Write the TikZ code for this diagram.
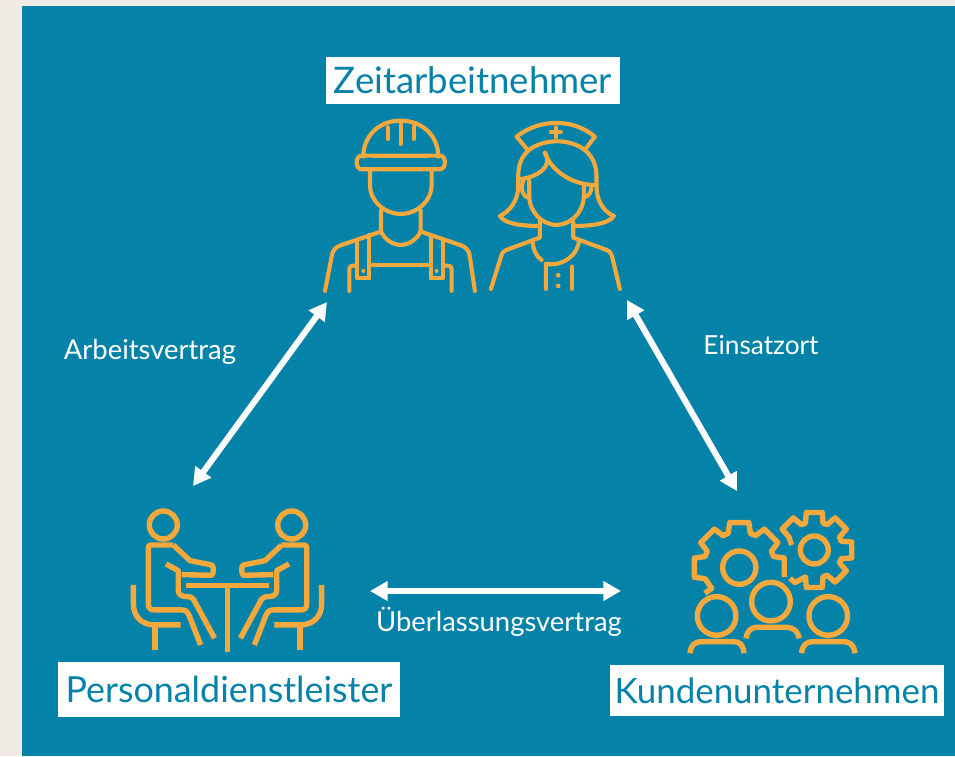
\documentclass[tikz,border=0pt]{standalone}
\usepackage{fontspec}
\setmainfont{Lato}
\usetikzlibrary{arrows.meta}
\usetikzlibrary{positioning}
\definecolor{tealbg}{HTML}{0582A8}
\definecolor{pagebg}{HTML}{EFEBE4}
\definecolor{iconorange}{HTML}{F5A83C}
\tikzset{
	titlebox/.style={fill=white,text=tealbg,inner sep=0pt,font=\fontsize{30.6}{32}\selectfont},
	smalllabel/.style={text=white,inner sep=0pt,font=\fontsize{23.4}{25}\selectfont},
	dblarrow/.style={draw=white,line width=5.2pt,{Triangle[width=16pt,length=15pt]}-{Triangle[width=16pt,length=15pt]}},
	icon/.style={draw=iconorange,line width=3.5pt,line cap=round,line join=round},
	iconthick/.style={draw=iconorange,line width=4.6pt,line join=round}
}
% one half of the table scene, mirrored for the other person
\newcommand{\seatedperson}{
	\draw[iconthick] (160,105) circle (42);
	\draw[iconthick] (190,165) -- (125,165) .. controls (115,165) and (115,170) .. (115,180) -- (115,340) .. controls (115,355) and (120,360) .. (135,360) -- (215,360) .. controls (228,360) and (232,365) .. (238,378) -- (272,465);
	\draw[iconthick] (190,165) -- (240,212) -- (305,225) .. controls (312,228) and (312,250) .. (305,256) -- (215,254);
	\draw[iconthick] (168,222) -- (205,242) -- (205,300) .. controls (205,315) and (215,320) .. (232,320) .. controls (245,320) and (250,325) .. (256,338) -- (314,445);
	\draw[iconthick] (70,285) -- (70,340) .. controls (70,380) and (95,405) .. (135,405) -- (212,405);
	\draw[iconthick] (135,405) -- (135,480);
}
\newcommand{\gearteeth}[5]{% outer radius, inner radius, first angle, last angle, second angle
	\foreach \a in {#3,#5,...,#4} {
		-- ({\a-18}:#2) -- ({\a-12}:#1) -- ({\a+12}:#1) -- ({\a+18}:#2)
	}
}
\begin{document}
\begin{tikzpicture}[x=0.03cm,y=-0.03cm]
	\useasboundingbox (0,0) rectangle (955,756);
	\fill[pagebg] (0,0) rectangle (955,756);
	\fill[tealbg] (22,6) rectangle (955,756);

	\node[titlebox,minimum width=296*0.85pt,minimum height=47*0.85pt,font=\fontsize{31.2}{32}\selectfont] (worker) at (473,80.5) {Zeitarbeitnehmer};
	\node[titlebox,minimum width=344*0.85pt,minimum height=55*0.85pt] (agency) at (229,689.5) {Personaldienstleister};
	\node[titlebox,minimum width=336*0.85pt,minimum height=51*0.85pt,font=\fontsize{29.8}{32}\selectfont] (client) at (777,690.5) {Kundenunternehmen};

	\node[smalllabel] (contract) at (150,352) {Arbeitsvertrag};
	\node[smalllabel,font=\fontsize{22.4}{25}\selectfont] (site) at (761,345) {Einsatzort};
	\node[smalllabel] (lease) at (499,622) {Überlassungsvertrag};

	\coordinate (workerL) at (327,302);
	\coordinate (workerR) at (627,300);
	\coordinate (agencyT) at (193,486);
	\coordinate (agencyR) at (621,591);
	\coordinate (clientT) at (737,491);
	\coordinate (clientL) at (370,591);
	\draw[dblarrow] (workerL) -- (agencyT);
	\draw[dblarrow] (workerR) -- (clientT);
	\draw[dblarrow] (clientL) -- (agencyR);

	% worker
	\begin{scope}[shift={(310,90)},x=0.01cm,y=-0.01cm]
		\draw[icon] (160,200) .. controls (160,140) and (205,92) .. (272,92) .. controls (340,92) and (385,140) .. (385,200);
		\draw[icon] (155,197) -- (390,197) .. controls (410,197) and (410,238) .. (390,238) -- (155,238) .. controls (135,238) and (135,197) .. (155,197);
		\draw[icon] (192,197) -- (352,197);
		\draw[icon] (233,112) -- (233,147);
		\draw[icon] (272,100) -- (272,162);
		\draw[icon] (312,110) -- (312,147);
		\draw[icon] (180,238) -- (180,285) .. controls (180,335) and (225,372) .. (272,372) .. controls (320,372) and (365,335) .. (365,285) -- (365,238);
		\draw[icon] (213,362) -- (213,425) .. controls (225,450) and (250,465) .. (272,465) .. controls (295,465) and (320,450) .. (332,425) -- (332,362);
		\draw[icon] (213,425) -- (95,465) .. controls (75,472) and (70,480) .. (66,495) -- (45,603);
		\draw[icon] (332,425) -- (450,465) .. controls (470,472) and (475,480) .. (479,495) -- (495,603);
		\draw[icon] (140,450) -- (140,565) -- (178,565) -- (178,435);
		\draw[icon] (362,435) -- (362,565) -- (400,565) -- (400,450);
		\draw[icon] (178,525) -- (362,525);
		\draw[icon] (118,603) -- (118,540) .. controls (118,530) and (122,527) .. (130,527) -- (140,527);
		\draw[icon] (425,603) -- (425,540) .. controls (425,530) and (421,527) .. (413,527) -- (400,527);
		\fill[iconorange] (160,543) circle (6);
		\fill[iconorange] (380,543) circle (6);
	\end{scope}

	% nurse
	\begin{scope}[shift={(310,90)},x=0.01cm,y=-0.01cm]
		\draw[icon] (620,140) .. controls (690,85) and (790,85) .. (855,140) -- (825,180) .. controls (780,145) and (700,145) .. (655,182) -- cycle;
		\draw[icon] (738,112) -- (738,142);
		\draw[icon] (723,127) -- (753,127);
		\draw[icon] (655,182) .. controls (635,200) and (625,225) .. (625,260) -- (625,290) .. controls (625,330) and (600,365) .. (570,378) .. controls (585,405) and (650,408) .. (688,408);
		\draw[icon] (825,180) .. controls (848,200) and (860,225) .. (860,260) -- (860,290) .. controls (860,330) and (880,365) .. (912,378) .. controls (895,405) and (830,408) .. (790,408);
		\draw[icon] (705,188) .. controls (730,225) and (690,262) .. (625,268);
		\draw[icon] (705,188) .. controls (725,245) and (790,285) .. (855,285);
		\draw[icon] (658,272) -- (658,320) .. controls (660,370) and (700,405) .. (740,405) .. controls (780,405) and (820,370) .. (822,320) -- (822,285);
		\draw[icon] (640,272) .. controls (630,300) and (640,320) .. (658,325);
		\draw[icon] (845,288) .. controls (845,305) and (838,320) .. (822,322);
		\draw[icon] (690,392) -- (690,443) -- (590,480) .. controls (578,485) and (575,492) .. (572,505) -- (543,597);
		\draw[icon] (790,395) -- (790,443) -- (890,480) .. controls (902,485) and (905,492) .. (908,505) -- (930,597);
		\draw[icon] (668,455) .. controls (670,480) and (680,500) .. (695,510);
		\draw[icon] (808,450) .. controls (805,495) and (760,530) .. (708,522) -- (708,597);
		\draw[icon] (787,530) -- (787,597);
		\fill[iconorange] (745,556) circle (7);
		\fill[iconorange] (745,588) circle (7);
	\end{scope}

	% table scene
	\begin{scope}[shift={(110,490)},x=0.01cm,y=-0.01cm]
		\seatedperson
		\begin{scope}[xshift=7.05cm,xscale=-1]
			\seatedperson
		\end{scope}
		\draw[iconthick] (228,287) -- (478,287);
		\draw[iconthick] (352,287) -- (352,485);
	\end{scope}

	% gears and staff
	\begin{scope}[shift={(670,490)},x=0.01cm,y=-0.01cm]
		\draw[iconthick] (208,233) circle (50);
		\draw[iconthick] (433,180) circle (42);
		\begin{scope}[shift={(208,233)}]
			\draw[iconthick] (-103,77) -- (-83,62) \gearteeth{138}{108}{180}{315}{225} -- (-18:108) -- (-12:138) -- (12:138);
		\end{scope}
		\begin{scope}[shift={(433,180)}]
			\draw[iconthick] (-68,-15) \gearteeth{115}{85}{-135}{90}{-90} -- (-58,98) -- (-73,85);
		\end{scope}
		\draw[iconthick] (140,378) circle (58);
		\draw[iconthick] (303,335) circle (58);
		\draw[iconthick] (475,378) circle (58);
		\draw[iconthick] (60,490) .. controls (62,465) and (75,455) .. (95,455) -- (190,455) .. controls (210,455) and (220,465) .. (222,490);
		\draw[iconthick] (228,445) .. controls (230,425) and (243,412) .. (260,412) -- (350,412) .. controls (370,412) and (385,425) .. (388,445);
		\draw[iconthick] (395,490) .. controls (397,465) and (410,455) .. (430,455) -- (520,455) .. controls (540,455) and (553,465) .. (555,490);
	\end{scope}
\end{tikzpicture}
\end{document}
